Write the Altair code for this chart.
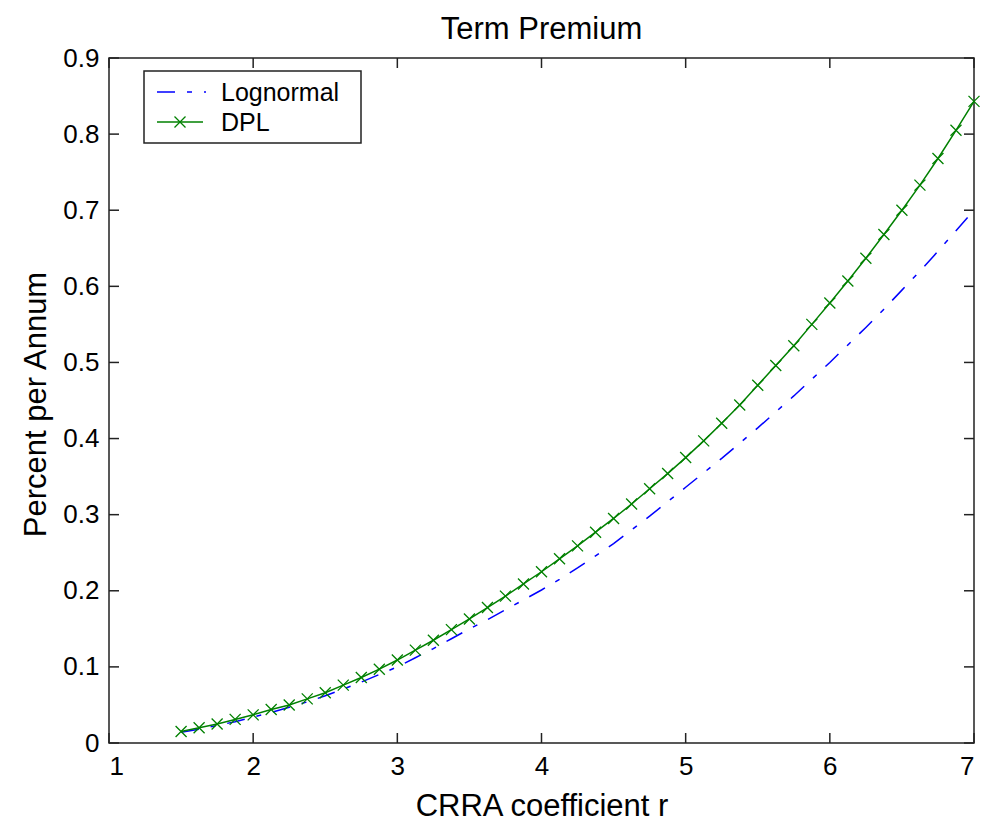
import altair as alt
import pandas as pd

# ---- data ----
r_values = [1.5, 1.625, 1.75, 1.875, 2.0, 2.125, 2.25, 2.375, 2.5, 2.625, 2.75, 2.875,
            3.0, 3.125, 3.25, 3.375, 3.5, 3.625, 3.75, 3.875, 4.0, 4.125, 4.25, 4.375,
            4.5, 4.625, 4.75, 4.875, 5.0, 5.125, 5.25, 5.375, 5.5, 5.625, 5.75, 5.875,
            6.0, 6.125, 6.25, 6.375, 6.5, 6.625, 6.75, 6.875, 7.0]
lognormal = [0.014, 0.018, 0.023, 0.028, 0.034, 0.040, 0.047, 0.054, 0.062, 0.071, 0.080, 0.090,
             0.100, 0.112, 0.124, 0.137, 0.150, 0.162, 0.175, 0.188, 0.201, 0.215, 0.230, 0.246,
             0.262, 0.280, 0.298, 0.317, 0.336, 0.355, 0.374, 0.394, 0.414, 0.435, 0.456, 0.478,
             0.500, 0.523, 0.546, 0.570, 0.595, 0.620, 0.646, 0.673, 0.700]
dpl = [0.015, 0.020, 0.025, 0.031, 0.037, 0.044, 0.050, 0.058, 0.066, 0.076, 0.086, 0.097,
       0.109, 0.122, 0.135, 0.149, 0.163, 0.178, 0.193, 0.209, 0.225, 0.242, 0.259, 0.277,
       0.295, 0.314, 0.334, 0.354, 0.375, 0.397, 0.420, 0.444, 0.470, 0.496, 0.522, 0.550,
       0.578, 0.607, 0.637, 0.668, 0.700, 0.733, 0.768, 0.805, 0.843]
series_names = ["Lognormal", "DPL"]
x_ticks = [1, 2, 3, 4, 5, 6, 7]
y_ticks = [0, 0.1, 0.2, 0.3, 0.4, 0.5, 0.6, 0.7, 0.8, 0.9]
title_text = "Term Premium"
x_title = "CRRA coefficient r"
y_title = "Percent per Annum"

W, H = 865, 685
BLUE = "#0000FF"
GREEN = "#008000"
INK = "#222222"
FONT = "Liberation Sans"
XSHAPE = "M-1,-1L1,1M-1,1L1,-1"

df_log = pd.DataFrame({"r": r_values, "v": lognormal})
df_dpl = pd.DataFrame({"r": r_values, "v": dpl})
df_xt = pd.DataFrame({"t": x_ticks})
df_yt = pd.DataFrame({"t": y_ticks})

xscale = alt.Scale(domain=[1, 7], nice=False, zero=False)
yscale = alt.Scale(domain=[0, 0.9], nice=False, zero=False)

xaxis = alt.Axis(values=x_ticks, format="d", title=x_title, grid=False, ticks=False,
                 tickSize=0, domain=False, labelFontSize=26, labelPadding=10,
                 labelColor="#000", titleFontSize=31, titleFontWeight="normal",
                 titleColor="#000", titleBaseline="alphabetic", titleY=72)
yaxis = alt.Axis(values=y_ticks, format=".1~f", title=y_title, grid=False, ticks=False,
                 tickSize=0, domain=False, labelFontSize=26, labelPadding=10,
                 labelColor="#000", titleFontSize=31, titleFontWeight="normal",
                 titleColor="#000", titleBaseline="alphabetic", titleX=-64, titleY=346,
                 titleAngle=270)

line_log = alt.Chart(df_log).mark_line(color=BLUE, strokeWidth=1.5,
                                       strokeDash=[18, 12, 5, 12]).encode(
    x=alt.X("r:Q", scale=xscale, axis=xaxis),
    y=alt.Y("v:Q", scale=yscale, axis=yaxis),
)
line_dpl = alt.Chart(df_dpl).mark_line(color=GREEN, strokeWidth=1.5).encode(
    x=alt.X("r:Q", scale=xscale), y=alt.Y("v:Q", scale=yscale))
pts_dpl = alt.Chart(df_dpl).mark_point(shape=XSHAPE, filled=False, stroke=GREEN,
                                       strokeWidth=1.3, size=121, opacity=1).encode(
    x=alt.X("r:Q", scale=xscale), y=alt.Y("v:Q", scale=yscale))

# inward ticks on all four sides
tick_style = dict(color=INK, strokeWidth=1.5)
xt_bottom = alt.Chart(df_xt).mark_rule(**tick_style).encode(
    x=alt.X("t:Q", scale=xscale), y=alt.value(H), y2=alt.value(H - 10))
xt_top = alt.Chart(df_xt).mark_rule(**tick_style).encode(
    x=alt.X("t:Q", scale=xscale), y=alt.value(0), y2=alt.value(10))
yt_left = alt.Chart(df_yt).mark_rule(**tick_style).encode(
    y=alt.Y("t:Q", scale=yscale), x=alt.value(0), x2=alt.value(10))
yt_right = alt.Chart(df_yt).mark_rule(**tick_style).encode(
    y=alt.Y("t:Q", scale=yscale), x=alt.value(W), x2=alt.value(W - 10))

# legend box
leg_data = pd.DataFrame({"label": series_names})
leg_box = alt.Chart(leg_data.head(1)).mark_rect(fill="white", stroke=INK, strokeWidth=1.5).encode(
    x=alt.value(35), x2=alt.value(252), y=alt.value(13), y2=alt.value(85))
leg_line1 = alt.Chart(leg_data.head(1)).mark_rule(color=BLUE, strokeWidth=1.5,
                                                  strokeDash=[18, 12, 5, 12]).encode(
    x=alt.value(48), x2=alt.value(97), y=alt.value(34))
leg_line2 = alt.Chart(leg_data.head(1)).mark_rule(color=GREEN, strokeWidth=1.5).encode(
    x=alt.value(48), x2=alt.value(94), y=alt.value(64))
leg_pt2 = alt.Chart(leg_data.head(1)).mark_point(shape=XSHAPE, filled=False, stroke=GREEN,
                                                 strokeWidth=1.3, size=121, opacity=1).encode(
    x=alt.value(71), y=alt.value(64))
leg_txt1 = alt.Chart(leg_data.iloc[[0]]).mark_text(align="left", baseline="middle",
                                                   fontSize=25, font=FONT, color="#000").encode(
    x=alt.value(112), y=alt.value(35), text="label:N")
leg_txt2 = alt.Chart(leg_data.iloc[[1]]).mark_text(align="left", baseline="middle",
                                                   fontSize=25, font=FONT, color="#000").encode(
    x=alt.value(112), y=alt.value(65), text="label:N")

chart = alt.layer(
    line_log, line_dpl, pts_dpl,
    xt_bottom, xt_top, yt_left, yt_right,
    leg_box, leg_line1, leg_line2, leg_pt2, leg_txt1, leg_txt2,
).properties(
    width=W, height=H,
    title=alt.TitleParams(title_text, fontSize=31, fontWeight="normal", color="#000",
                          font=FONT, anchor="middle", offset=-1),
    autosize=alt.AutoSizeParams(type="none"),
    padding={"left": 109, "top": 58, "right": 9, "bottom": 81},
).configure(
    font=FONT, background="white",
).configure_view(
    stroke=INK, strokeWidth=1.5,
)

chart.save("out.html", embed_options={"renderer": "svg", "actions": False})
